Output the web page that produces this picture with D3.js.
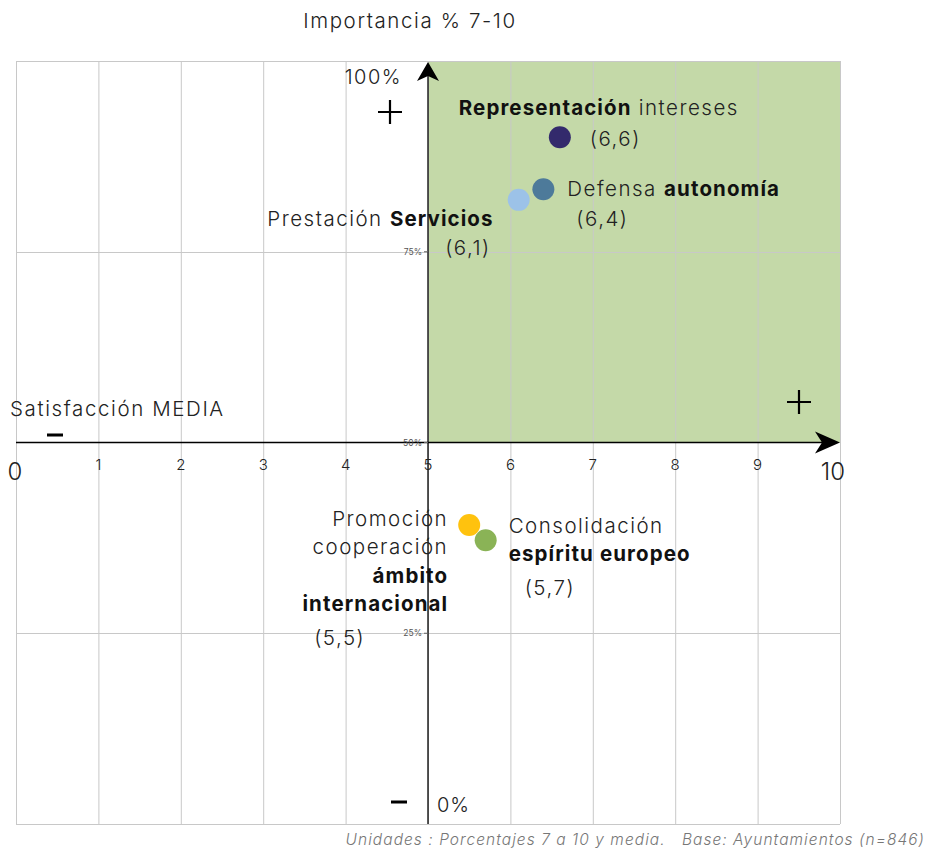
<!DOCTYPE html>
<meta charset="utf-8">
<style>
body { margin: 0; background: #fff; }
svg { font-family: Inter, "Open Sans", sans-serif; }
.grid line { stroke: #c8c8c8; stroke-width: 1; }
.lbl { font-size: 20.5px; font-weight: 300; fill: #222; letter-spacing: 1.5px; }
.lbl .b { font-weight: 700; fill: #111; letter-spacing: 1.1px; }
</style>
<svg width="928" height="849"></svg>
<script src="https://cdn.jsdelivr.net/npm/d3@7"></script>
<script>

// data
var names = [
  [["Representación", 1], [" intereses", 0]],
  [["Defensa ", 0], ["autonomía", 1]],
  [["Prestación ", 0], ["Servicios", 1]],
  [["Promoción", 0]],
  [["Consolidación", 0]]
];
var satisfaccion = [6.6, 6.4, 6.1, 5.5, 5.7];
var importancia = [90.0, 83.2, 81.8, 39.2, 37.2];
var valueLabels = ["(6,6)", "(6,4)", "(6,1)", "(5,5)", "(5,7)"];
var colors = ["#332a6c", "#4d7a9a", "#9cc2e8", "#ffc20e", "#8ab356"];
var xTicks = [0, 1, 2, 3, 4, 5, 6, 7, 8, 9, 10];
var yTicks = [25, 50, 75];

var svg = d3.select("svg");

var x = d3.scaleLinear().domain([0, 10]).range([16, 840]);
var y = d3.scaleLinear().domain([0, 100]).range([824, 61]);

// green quadrant
svg.append("rect")
    .attr("x", x(5)).attr("y", y(100))
    .attr("width", x(10) - x(5)).attr("height", y(50) - y(100))
    .attr("fill", "#c4d9a8");

// grid
var grid = svg.append("g").attr("class", "grid");
grid.selectAll(".v").data(xTicks).enter().append("line")
    .attr("x1", d => x(d) + 0.5).attr("x2", d => x(d) + 0.5)
    .attr("y1", y(100)).attr("y2", y(0));
grid.selectAll(".h").data([0, 25, 75, 100]).enter().append("line")
    .attr("x1", x(0)).attr("x2", x(10))
    .attr("y1", d => Math.round(y(d)) + 0.5).attr("y2", d => Math.round(y(d)) + 0.5);

// axes with arrows
svg.append("line")
    .attr("x1", x(0)).attr("x2", x(10) - 10)
    .attr("y1", y(50)).attr("y2", y(50))
    .attr("stroke", "#000").attr("stroke-width", 1.3);
svg.append("line")
    .attr("x1", x(5)).attr("x2", x(5))
    .attr("y1", y(0)).attr("y2", y(100) + 10)
    .attr("stroke", "#000").attr("stroke-width", 1.3);

var ax = x(10), ay = y(50);
svg.append("path")
    .attr("d", "M" + ax + "," + ay + "L" + (ax - 25) + "," + (ay - 11) + "L" + (ax - 18) + "," + ay + "L" + (ax - 25) + "," + (ay + 11) + "Z")
    .attr("fill", "#000");
var bx = x(5), by = y(100) + 1;
svg.append("path")
    .attr("d", "M" + bx + "," + by + "L" + (bx - 11) + "," + (by + 19) + "L" + bx + "," + (by + 14) + "L" + (bx + 11) + "," + (by + 19) + "Z")
    .attr("fill", "#000");

// small y tick marks + percent labels
svg.selectAll(".yt").data(yTicks).enter().append("line")
    .attr("x1", x(5) - 4).attr("x2", x(5))
    .attr("y1", d => y(d)).attr("y2", d => y(d))
    .attr("stroke", "#666");
svg.selectAll(".ytl").data(yTicks).enter().append("text")
    .attr("x", x(5) - 6).attr("y", d => y(d) + 3)
    .attr("text-anchor", "end")
    .attr("font-size", 8.5).attr("fill", "#555")
    .text(d => d + "%");

// x tick labels
svg.selectAll(".xt").data(xTicks).enter().append("text")
    .attr("x", d => d == 0 ? x(d) - 1 : d == 10 ? x(d) - 7 : x(d))
    .attr("y", d => (d == 0 || d == 10) ? y(50) + 37 : y(50) + 27)
    .attr("text-anchor", "middle")
    .attr("font-size", d => (d == 0 || d == 10) ? 24 : 15)
    .attr("font-weight", 300)
    .attr("fill", "#222")
    .text(d => d);

function txt(t, xx, yy, size, anchor) {
  return svg.append("text")
      .attr("x", xx).attr("y", yy)
      .attr("text-anchor", anchor || "start")
      .attr("font-size", size).attr("font-weight", 300)
      .attr("fill", "#222")
      .text(t);
}

txt("Importancia % 7-10", 410, 28, 20.5, "middle").attr("letter-spacing", 1.6);
txt("100%", x(5) - 26, y(100) + 23, 20, "end").attr("letter-spacing", 1.5);
txt("0%", x(5) + 9, y(0) - 12, 20, "start").attr("letter-spacing", 1);
txt("Satisfacción MEDIA", 10, 416, 20.5, "start").attr("letter-spacing", 1.6);

// + and - quadrant marks
svg.selectAll(".plus").data([[390, 112], [799, 402]]).enter().append("path")
    .attr("d", d => "M" + (d[0] - 12) + "," + d[1] + "h24M" + d[0] + "," + (d[1] - 12) + "v24")
    .attr("stroke", "#000").attr("stroke-width", 2.2);
svg.selectAll(".minus").data([[55, 435], [399, 802]]).enter().append("rect")
    .attr("x", d => d[0] - 8).attr("y", d => d[1] - 1.5)
    .attr("width", 16).attr("height", 3)
    .attr("fill", "#000");

svg.append("text")
    .attr("x", 925).attr("y", 845)
    .attr("text-anchor", "end")
    .attr("font-size", 15.5).attr("font-style", "italic").attr("font-weight", 300)
    .attr("letter-spacing", 1.05)
    .attr("fill", "#777")
    .text("Unidades : Porcentajes 7 a 10 y media.   Base: Ayuntamientos (n=846)")
    .style("white-space", "pre");

// points
svg.selectAll(".pt").data(satisfaccion).enter().append("circle")
    .attr("cx", (d, i) => x(d))
    .attr("cy", (d, i) => y(importancia[i]))
    .attr("r", 11)
    .attr("fill", (d, i) => colors[i]);

// label layout: lines of [text, bold] segments, offsets from the point
var extraLines = {
  3: [[["cooperación", 0]], [["ámbito", 1]], [["internacional", 1]]],
  4: [[["espíritu europeo", 1]]]
};
var layout = [
  {anchor: "middle", dx: 39, dy: -22, lh: 0, vdx: 30, vdy: 9, va: "start"},
  {anchor: "start", dx: 24, dy: 7, lh: 0, vdx: 33, vdy: 37, va: "start"},
  {anchor: "end", dx: -25, dy: 26, lh: 0, vdx: -28, vdy: 55, va: "end"},
  {anchor: "end", dx: -21, dy: 1, lh: 28.5, vdx: -104, vdy: 120, va: "end"},
  {anchor: "start", dx: 23, dy: -7, lh: 28, vdx: 39, vdy: 55, va: "start"}
];

names.forEach(function(first, i) {
  var L = layout[i];
  var px = x(satisfaccion[i]), py = y(importancia[i]);
  var lines = [first].concat(extraLines[i] || []);
  var t = svg.append("text").attr("class", "lbl")
      .attr("text-anchor", L.anchor);
  lines.forEach(function(segs, j) {
    segs.forEach(function(s, k) {
      var ts = t.append("tspan").text(s[0]).classed("b", s[1] == 1);
      if (k == 0) ts.attr("x", px + L.dx).attr("y", py + L.dy + j * L.lh);
    });
  });
  t.style("white-space", "pre");
  svg.append("text").attr("class", "lbl")
      .attr("x", px + L.vdx).attr("y", py + L.vdy)
      .attr("text-anchor", L.va)
      .text(valueLabels[i]);
});

</script>
